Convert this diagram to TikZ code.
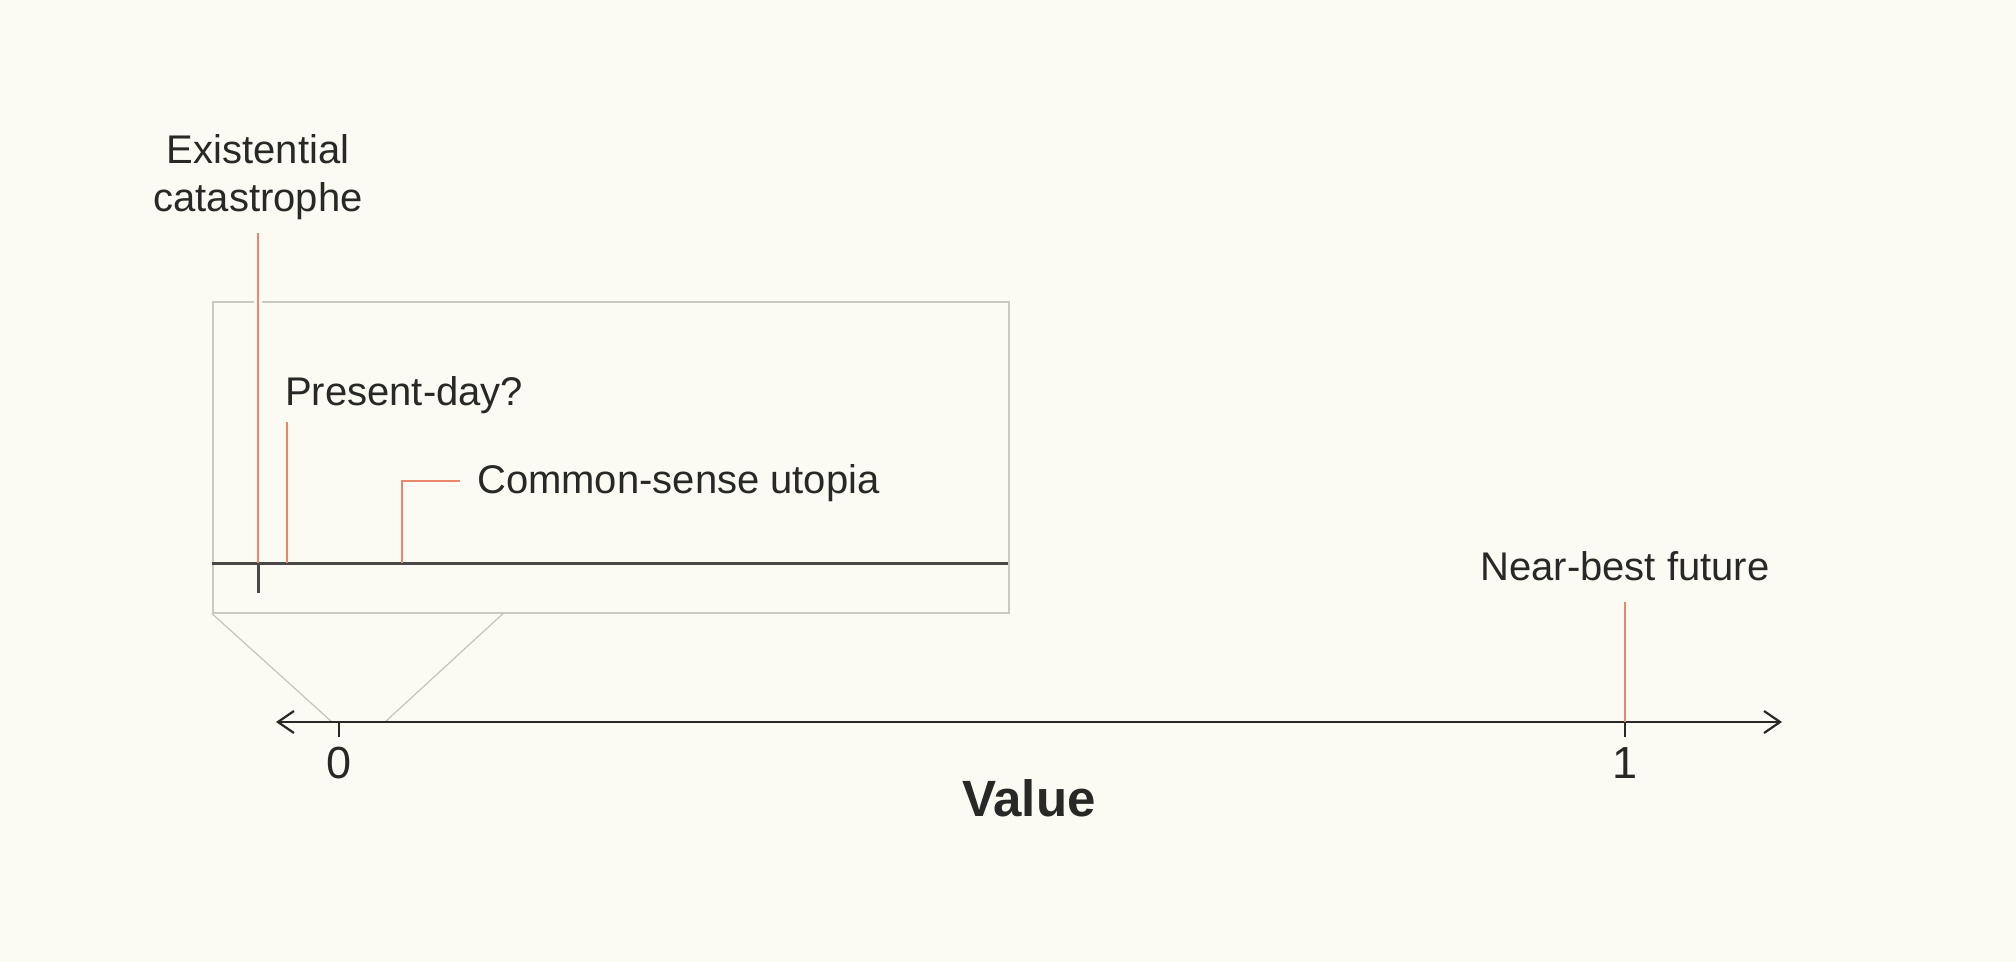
\documentclass[tikz,border=0pt]{standalone}
\usepackage{fontspec}
\setmainfont{Liberation Sans}
\usetikzlibrary{arrows.meta}
\definecolor{bgc}{HTML}{FBFBF4}
\definecolor{ink}{HTML}{282826}
\definecolor{clay}{HTML}{E9866B}
\definecolor{boxgray}{HTML}{CACAC0}
\definecolor{insetax}{HTML}{4A4846}
\definecolor{diag}{HTML}{C4C4BC}
\tikzset{
  lbl/.style={inner sep=0pt, text=ink, font=\fontsize{40}{48}\selectfont},
  numlbl/.style={inner sep=0pt, text=ink, font=\fontsize{45}{54}\selectfont},
  marker/.style={draw=clay, line width=2.2pt},
  gapmarker/.style={draw=bgc, line width=8pt},
  mainaxis/.style={draw=ink, line width=2.2pt},
  insetaxis/.style={draw=insetax, line width=3pt},
  tickmark/.style={draw=ink, line width=2.2pt},
  zoombox/.style={draw=boxgray, line width=1.6pt},
  zoomline/.style={draw=diag, line width=1.2pt}
}
\begin{document}
\begin{tikzpicture}[x=1pt,y=-1pt]
\fill[bgc] (0,0) rectangle (2016,962);
\useasboundingbox (0,0) rectangle (2016,962);
% inset box
\node[zoombox, inner sep=0pt, minimum width=796pt, minimum height=311pt, anchor=north west] (box) at (212,301) {};
% zoom lines
\coordinate (zl) at (332,722);
\coordinate (zr) at (385,722);
\draw[zoomline] (box.south west) -- (zl);
\draw[zoomline] (box.south west -| 503,0) -- (zr);
% inset axis
\coordinate (ia) at (212,563);
\coordinate (ib) at (1008,563);
\draw[insetaxis] (ia) -- (ib);
\coordinate (ec0) at (258,563);
\coordinate (ec1) at (258,593);
\draw[insetaxis] (ec0) -- (ec1);
% existential catastrophe marker
\coordinate (ectop) at (258,233);
\draw[gapmarker] (258,292) -- (258,310);
\draw[marker] (ectop) -- (ec0);
\node[lbl, align=center, anchor=base] (ect) at (258,211) {Existential\\catastrophe};
% present-day
\coordinate (pd0) at (287,563);
\coordinate (pd1) at (287,422);
\draw[marker] (pd0) -- (pd1);
\node[lbl, anchor=base west] (pdt) at (285,405) {Present-day?};
% common-sense utopia
\coordinate (cs0) at (402,563);
\coordinate (cs1) at (402,481);
\coordinate (cs2) at (460,481);
\draw[marker] (cs0) -- (cs1) -- (cs2);
\node[lbl, anchor=base west] (cst) at (477,493) {Common-sense utopia};
% main axis
\coordinate (axl) at (276,722);
\coordinate (axr) at (1782,722);
\draw[mainaxis, {Straight Barb[length=16pt,width=22pt,line width=2.2pt]}-{Straight Barb[length=16pt,width=22pt,line width=2.2pt]}] (axl) -- (axr);
% ticks
\coordinate (t0) at (339,722);
\coordinate (t0b) at (339,737);
\draw[tickmark] (t0) -- (t0b);
\coordinate (t1) at (1625,722);
\coordinate (t1b) at (1625,737);
\draw[tickmark] (t1) -- (t1b);
\node[numlbl, anchor=north] (n0) at (339,747) {0};
\node[numlbl, anchor=north] (n1) at (1625,747) {1};
% near-best future
\coordinate (nb1) at (1625,602);
\draw[marker] (nb1) -- (t1);
\node[lbl, anchor=base] (nbt) at (1625,580) {Near-best future};
% axis title
\node[inner sep=0pt, text=ink, font=\bfseries\fontsize{51}{60}\selectfont, anchor=base] (val) at (1029,816) {Value};
\end{tikzpicture}
\end{document}
